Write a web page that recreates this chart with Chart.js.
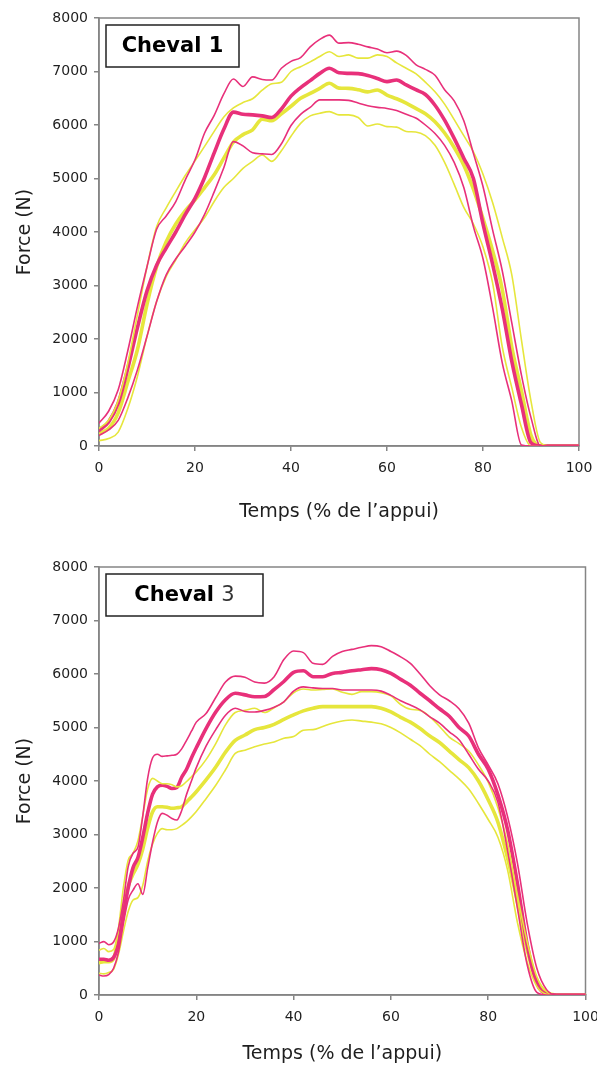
<!DOCTYPE html>
<html lang="fr">
<head>
<meta charset="utf-8">
<title>Force - Cheval 1 / Cheval 3</title>
<script src="https://cdn.jsdelivr.net/npm/chart.js@4.4.1/dist/chart.umd.min.js"></script>
<style>
  html, body { margin: 0; padding: 0; background: #fff; }
  canvas { display: block; }
</style>
</head>
<body>
<canvas id="cheval1" width="597" height="548"></canvas>
<canvas id="cheval3" width="597" height="519"></canvas>
<script>
// --- data (Force in N vs % of stance) ---
const timeC1 = [0, 2, 4, 6, 8, 10, 12, 14, 16, 18, 20, 22, 24, 26, 28, 30, 32, 34, 36, 38, 40,
  42, 44, 46, 48, 50, 52, 54, 56, 58, 60, 62, 64, 66, 68, 70, 72, 74, 76, 78, 80,
  82, 84, 86, 88, 90, 92, 94, 96, 98, 100];

const c1PinkUpper = [430, 650, 1050, 1780, 2600, 3350, 4050, 4300, 4570, 4980, 5350, 5850, 6180, 6580, 6860, 6720, 6900, 6850, 6840, 7060, 7190,
  7260, 7460, 7600, 7680, 7530, 7540, 7510, 7460, 7420, 7350, 7380, 7300, 7130, 7040, 6930, 6660, 6450, 6080, 5470, 4850,
  4040, 3280, 2300, 1330, 530, 0, 0, 0, 0, 0];
const c1PinkMean = [290, 450, 800, 1450, 2210, 2900, 3380, 3700, 4000, 4330, 4630, 5020, 5480, 5920, 6240, 6200, 6190, 6170, 6140, 6300, 6540,
  6700, 6830, 6965, 7060, 6975, 6965, 6960, 6925, 6870, 6810, 6840, 6750, 6660, 6570, 6370, 6090, 5750, 5380, 5000, 4150,
  3400, 2565, 1580, 780, 60, 0, 0, 0, 0, 0];
const c1PinkLower = [200, 300, 480, 900, 1420, 2050, 2700, 3200, 3500, 3740, 4000, 4330, 4750, 5200, 5690, 5610, 5480, 5460, 5450, 5650, 5990,
  6200, 6330, 6470, 6470, 6470, 6460, 6410, 6360, 6330, 6310, 6270, 6200, 6130, 6000, 5840, 5620, 5300, 4830, 4100, 3500,
  2585, 1560, 840, 20, 0, 0, 0, 0, 0, 0];
const c1YellowUpper = [330, 480, 850, 1550, 2450, 3350, 4100, 4450, 4760, 5060, 5330, 5600, 5880, 6150, 6320, 6420, 6490, 6650, 6770, 6800, 7000,
  7090, 7180, 7280, 7370, 7280, 7310, 7250, 7250, 7310, 7280, 7160, 7060, 6960, 6800, 6620, 6390, 6100, 5800, 5500, 5080,
  4550, 3900, 3200, 1990, 840, 60, 0, 0, 0, 0];
const c1YellowMean = [230, 330, 620, 1200, 1800, 2650, 3350, 3820, 4150, 4400, 4600, 4830, 5070, 5380, 5680, 5820, 5910, 6110, 6080, 6210, 6350,
  6500, 6590, 6685, 6780, 6690, 6685, 6660, 6620, 6655, 6560, 6490, 6410, 6310, 6210, 6060, 5850, 5580, 5250, 4800, 4250,
  3650, 2930, 1850, 1035, 200, 0, 0, 0, 0, 0];
const c1YellowLower = [100, 140, 260, 700, 1300, 2050, 2700, 3170, 3480, 3800, 4040, 4270, 4570, 4830, 5000, 5190, 5320, 5440, 5320, 5520, 5790,
  6030, 6170, 6220, 6250, 6190, 6190, 6140, 5980, 6020, 5970, 5960, 5880, 5870, 5800, 5620, 5300, 4890, 4460, 4150, 3720,
  3050, 1860, 1090, 350, 0, 0, 0, 0, 0, 0];

const timeC3 = [0, 1, 2, 3, 4, 5, 6, 7, 8, 9, 10, 11, 12, 13, 14, 15, 16, 17, 18, 19, 20,
  22, 24, 26, 28, 30, 32, 34, 36, 38, 40, 42, 44, 46, 48, 50, 52, 54, 56, 58, 60,
  62, 64, 66, 68, 70, 72, 74, 76, 78, 80, 82, 84, 86, 88, 90, 92, 94, 96, 98, 100];

const c3PinkUpper = [966, 997, 940, 990, 1250, 1750, 2400, 2650, 2760, 3350, 4050, 4430, 4500, 4460, 4470, 4480, 4500, 4600, 4760, 4930, 5100,
  5260, 5560, 5850, 5960, 5940, 5850, 5830, 5950, 6270, 6430, 6400, 6200, 6180, 6330, 6420, 6460, 6500, 6530, 6510, 6420,
  6320, 6200, 6000, 5780, 5610, 5500, 5350, 5080, 4620, 4300, 3950, 3330, 2470, 1350, 500, 100, 0, 0, 0, 0];
const c3PinkMean = [667, 667, 650, 700, 950, 1500, 2000, 2380, 2570, 2950, 3400, 3750, 3890, 3920, 3900, 3860, 3880, 4070, 4220, 4430, 4620,
  4980, 5290, 5520, 5640, 5610, 5575, 5580, 5710, 5860, 6030, 6060, 5950, 5950, 6010, 6030, 6060, 6080, 6100, 6080, 6010,
  5900, 5790, 5640, 5500, 5350, 5210, 5000, 4840, 4500, 4220, 3740, 3080, 2090, 950, 220, 20, 0, 0, 0, 0];
const c3PinkLower = [374, 355, 380, 500, 800, 1330, 1780, 1960, 2080, 1880, 2370, 2850, 3230, 3395, 3360, 3300, 3270, 3450, 3750, 4000, 4250,
  4650, 4960, 5230, 5360, 5300, 5290, 5320, 5380, 5480, 5680, 5760, 5740, 5730, 5730, 5700, 5700, 5700, 5700, 5680, 5600,
  5500, 5420, 5330, 5200, 5080, 4920, 4770, 4500, 4220, 4000, 3600, 2690, 1630, 570, 50, 0, 0, 0, 0, 0];
const c3YellowUpper = [840, 870, 810, 850, 1250, 2000, 2520, 2650, 2880, 3350, 3850, 4050, 4000, 3950, 3950, 3930, 3890, 3910, 3990, 4080, 4170,
  4400, 4700, 5050, 5280, 5320, 5360, 5280, 5370, 5480, 5650, 5720, 5700, 5710, 5720, 5660, 5620, 5670, 5670, 5650, 5590,
  5430, 5340, 5320, 5200, 5020, 4820, 4700, 4560, 4300, 3980, 3500, 2830, 1870, 1000, 340, 60, 0, 0, 0, 0];
const c3YellowMean = [604, 623, 623, 680, 1080, 1600, 2030, 2260, 2440, 2730, 3120, 3420, 3520, 3520, 3510, 3490, 3500, 3520, 3610, 3700, 3800,
  4020, 4260, 4540, 4760, 4860, 4960, 5000, 5060, 5150, 5235, 5310, 5360, 5390, 5390, 5390, 5390, 5390, 5390, 5360, 5290,
  5190, 5100, 4980, 4840, 4720, 4560, 4400, 4250, 4000, 3650, 3230, 2550, 1740, 850, 260, 50, 0, 0, 0, 0];
const c3YellowLower = [405, 395, 420, 480, 760, 1180, 1560, 1775, 1820, 2050, 2500, 2820, 3020, 3110, 3090, 3090, 3110, 3170, 3240, 3330, 3430,
  3670, 3920, 4210, 4515, 4575, 4640, 4690, 4730, 4800, 4830, 4950, 4960, 5020, 5080, 5120, 5140, 5120, 5100, 5070, 5000,
  4900, 4780, 4660, 4500, 4360, 4200, 4040, 3850, 3580, 3280, 2950, 2330, 1360, 620, 160, 15, 0, 0, 0, 0];

const yTicksMax = 8000;
const xTicksMax = 100;

// --- styles ---
const PINK = '#e8307a';
const YELLOW = '#e6e63c';
const AXIS_COLOR = '#858585';
const TEXT_COLOR = '#1e1e1e';
const FONT_FAMILY = '"DejaVu Sans", Verdana, sans-serif';

const framePlugin = {
    id: 'frame',
    beforeDatasetsDraw(chart) {
        const { ctx, chartArea: a } = chart;
        ctx.save();
        ctx.strokeStyle = AXIS_COLOR;
        ctx.lineWidth = 1.5;
        ctx.strokeRect(a.left, a.top, a.right - a.left, a.bottom - a.top);
        ctx.restore();
    }
};

// boxed "Cheval n" label in the top-left corner
const boxPlugin = {
    id: 'chevalBox',
    afterDraw(chart, args, opts) {
        const { ctx, chartArea: a } = chart;
        const x = a.left + 7;
        const y = a.top + 7;
        const h = 42;
        ctx.save();
        ctx.fillStyle = '#fff';
        ctx.fillRect(x, y, opts.width, h);
        ctx.strokeStyle = '#222';
        ctx.lineWidth = 1.5;
        ctx.strokeRect(x, y, opts.width, h);

        const boldFont = `bold 21px ${FONT_FAMILY}`;
        const numFont = `${opts.numBold ? 'bold ' : ''}21px ${FONT_FAMILY}`;
        ctx.font = boldFont;
        const w1 = ctx.measureText('Cheval ').width;
        ctx.font = numFont;
        const w2 = ctx.measureText(opts.num).width;
        let tx = x + opts.width / 2 - (w1 + w2) / 2;
        ctx.textBaseline = 'middle';
        ctx.textAlign = 'left';
        ctx.font = boldFont;
        ctx.fillStyle = '#000';
        ctx.fillText('Cheval ', tx, y + h / 2 + 1);
        ctx.font = numFont;
        ctx.fillStyle = opts.numBold ? '#000' : '#333';
        ctx.fillText(opts.num, tx + w1, y + h / 2 + 1);
        ctx.restore();
    }
};

function toPoints(xs, ys) {
    return xs.map((x, i) => ({ x: x, y: ys[i] }));
}

function line(xs, ys, color, width) {
    return {
        data: toPoints(xs, ys),
        borderColor: color,
        borderWidth: width,
        pointRadius: 0,
        fill: false,
        cubicInterpolationMode: 'monotone',
        borderJoinStyle: 'round',
        borderCapStyle: 'round'
    };
}

function createForceChart(canvasId, xs, series, box, lay) {
    const ctx = document.getElementById(canvasId).getContext('2d');
    const tickFont = { family: FONT_FAMILY, size: 14 };
    const titleFont = { family: FONT_FAMILY, size: 19 };

    const datasets = [
        line(xs, series.pinkUpper, PINK, 1.6),
        line(xs, series.pinkLower, PINK, 1.6),
        line(xs, series.yellowUpper, YELLOW, 1.6),
        line(xs, series.yellowLower, YELLOW, 1.6),
        line(xs, series.pinkMean, PINK, 3.6),
        line(xs, series.yellowMean, YELLOW, 3.6)
    ];

    new Chart(ctx, {
        type: 'line',
        data: { datasets: datasets },
        plugins: [framePlugin, boxPlugin],
        options: {
            responsive: false,
            animation: false,
            devicePixelRatio: 1,
            layout: { padding: { left: 0, top: lay.top, right: lay.right, bottom: 0 } },
            plugins: {
                legend: { display: false },
                tooltip: { enabled: false },
                chevalBox: box
            },
            scales: {
                x: {
                    type: 'linear',
                    min: 0,
                    max: xTicksMax,
                    ticks: {
                        stepSize: 20, font: tickFont, color: TEXT_COLOR, padding: 9, maxRotation: 0,
                        callback: (value) => String(value)
                    },
                    grid: { drawOnChartArea: false, drawTicks: true, tickLength: 5, color: AXIS_COLOR, lineWidth: 1.5 },
                    border: { display: true, color: AXIS_COLOR, width: 1.5 },
                    title: {
                        display: true,
                        text: 'Temps (% de l\u2019appui)',
                        font: titleFont,
                        color: TEXT_COLOR,
                        padding: { top: 0, bottom: lay.xTitlePad }
                    },
                    afterFit(scale) {
                        scale.height = lay.xAxisHeight;
                        scale.paddingLeft = 0;
                        scale.paddingRight = 0;
                    }
                },
                y: {
                    min: 0,
                    max: yTicksMax,
                    ticks: {
                        stepSize: 1000, font: tickFont, color: TEXT_COLOR, padding: 6,
                        callback: (value) => String(value)
                    },
                    grid: { drawOnChartArea: false, drawTicks: true, tickLength: 5, color: AXIS_COLOR, lineWidth: 1.5 },
                    border: { display: true, color: AXIS_COLOR, width: 1.5 },
                    title: {
                        display: true,
                        text: 'Force (N)',
                        font: titleFont,
                        color: TEXT_COLOR,
                        padding: { top: 14, bottom: 0 }
                    },
                    afterFit(scale) {
                        scale.width = 99;
                        scale.paddingTop = 0;
                        scale.paddingBottom = 0;
                    }
                }
            }
        }
    });
}

createForceChart('cheval1', timeC1, {
    pinkUpper: c1PinkUpper, pinkMean: c1PinkMean, pinkLower: c1PinkLower,
    yellowUpper: c1YellowUpper, yellowMean: c1YellowMean, yellowLower: c1YellowLower
}, { num: '1', numBold: true, width: 133 },
   { top: 18, right: 18, xAxisHeight: 102, xTitlePad: 25 });

createForceChart('cheval3', timeC3, {
    pinkUpper: c3PinkUpper, pinkMean: c3PinkMean, pinkLower: c3PinkLower,
    yellowUpper: c3YellowUpper, yellowMean: c3YellowMean, yellowLower: c3YellowLower
}, { num: '3', numBold: false, width: 157 },
   { top: 19, right: 11.5, xAxisHeight: 72, xTitlePad: 2 });
</script>
</body>
</html>
